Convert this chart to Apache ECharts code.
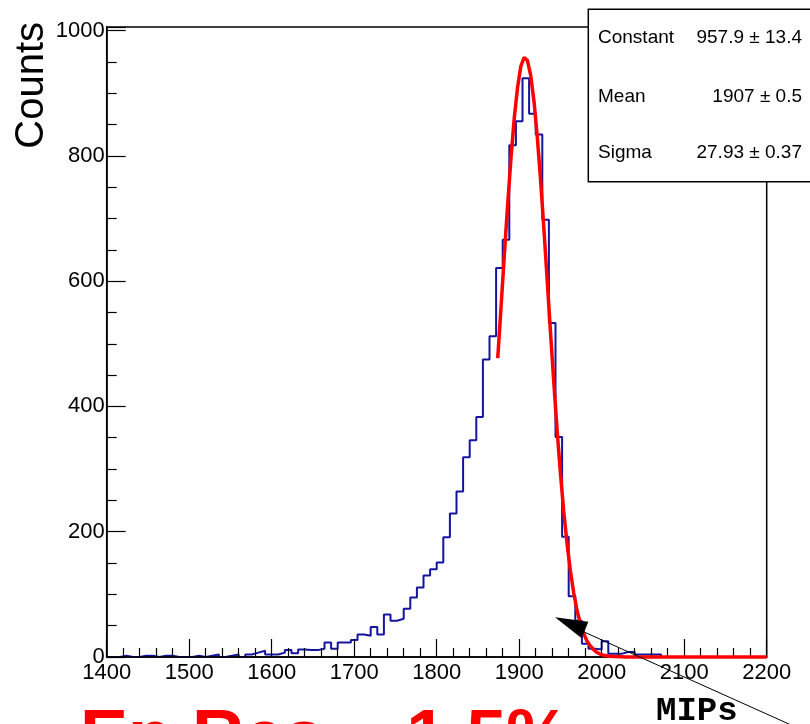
<!DOCTYPE html>
<html>
<head>
<meta charset="utf-8">
<script src="https://cdn.jsdelivr.net/npm/echarts@6/dist/echarts.min.js"></script>
<style>
  html, body { margin: 0; padding: 0; background: #fff; }
  #chart { width: 810px; height: 724px; }
</style>
</head>
<body>
<div id="chart"></div>
<script>
// ---- Data ----
const binLow = 1400;       // first bin lower edge
const binWidth = 8;        // 100 bins from 1400 to 2200
const counts = [
  0, 0, 2, 0, 0, 2, 2, 0, 2, 2,
  0, 0, 0, 2, 0, 2, 4, 0, 2, 4,
  0, 4, 7, 10, 4, 4, 7, 11, 6, 12,
  11, 11, 13, 23, 13, 23, 23, 27, 36, 34,
  48, 36, 68, 58, 61, 77, 95, 111, 130, 140,
  151, 191, 229, 264, 319, 346, 383, 475, 512, 621,
  666, 817, 855, 924, 867, 834, 698, 533, 351, 192,
  97, 58, 21, 13, 12, 25, 5, 5, 8, 8,
  4, 4, 4, 4, 0, 0, 0, 0, 0, 0,
  0, 0, 0, 0, 0, 0, 0, 0, 0, 0
];
// Gaussian fit curve
const fitX = [1874, 1878, 1882, 1886, 1890, 1894, 1898, 1902, 1906, 1907, 1910, 1914, 1918, 1922, 1926, 1930,
              1934, 1938, 1942, 1946, 1950, 1954, 1958, 1962, 1966, 1970, 1974, 1978, 1982, 1986, 1990,
              1994, 1998, 2002, 2010, 2030, 2200];
const fitY = [477, 559, 642, 722, 796, 860, 909, 943, 957, 958, 952, 928, 886, 829, 760, 682,
              600, 517, 437, 361, 293, 232, 181, 138, 103, 75, 54, 38, 26, 18, 12,
              7.5, 4.7, 2.9, 1.1, 0, 0];
const xTicks = [1400, 1500, 1600, 1700, 1800, 1900, 2000, 2100, 2200];
const yTicks = [0, 200, 400, 600, 800, 1000];
const statNames = ['Constant', 'Mean', 'Sigma'];
const statValues = ['957.9 \u00b1 13.4', '1907 \u00b1 0.5', '27.93 \u00b1 0.37'];
const yTitle = 'Counts';
const noteText = 'En Res ~ 1.5%';
const arrowLabel = 'MIPs';

// ---- Build ----
const histData = counts.map((c, i) => [binLow + i * binWidth, c]);
histData.push([binLow + counts.length * binWidth, counts[counts.length - 1]]);
const fitData = fitX.map((x, i) => [x, fitY[i]]);

const chart = echarts.init(document.getElementById('chart'), null, { renderer: 'canvas' });
const FONT = '"Liberation Sans", Arial, Helvetica, sans-serif';

const statGraphics = [];
const rowY = [38, 97, 153];
statNames.forEach((n, i) => {
  statGraphics.push({
    type: 'text', x: 598, y: rowY[i], z: 20,
    style: { text: n, font: '19px ' + FONT, fill: '#000', textAlign: 'left', textVerticalAlign: 'middle' }
  });
  statGraphics.push({
    type: 'text', x: 802, y: rowY[i], z: 20,
    style: { text: statValues[i], font: '19px ' + FONT, fill: '#000', textAlign: 'right', textVerticalAlign: 'middle' }
  });
});

const option = {
  animation: false,
  backgroundColor: '#fff',
  grid: {
    left: 106.7, right: 43.3, top: 26.9, bottom: 67,
    show: true, borderColor: '#000', borderWidth: 1.5, backgroundColor: 'transparent',
    containLabel: false, outerBoundsMode: 'none'
  },
  xAxis: {
    type: 'value', min: 1400, max: 2200, interval: 100, z: 3,
    axisLine: { show: true, lineStyle: { color: '#000', width: 1.5 } },
    axisTick: { show: true, inside: true, length: 18, lineStyle: { color: '#000', width: 1.2 } },
    minorTick: { show: true, splitNumber: 5, length: 9, lineStyle: { color: '#000', width: 1.2 } },
    splitLine: { show: false },
    axisLabel: { show: true, margin: 5, color: '#000', fontSize: 22, fontFamily: FONT,
      formatter: v => xTicks.indexOf(v) >= 0 ? String(v) : '' }
  },
  yAxis: {
    type: 'value', min: 0, max: 1005.8, interval: 200, z: 3,
    axisLine: { show: true, lineStyle: { color: '#000', width: 1.5 } },
    axisTick: { show: true, inside: true, length: 19, lineStyle: { color: '#000', width: 1.2 } },
    minorTick: { show: true, splitNumber: 4, length: 10, lineStyle: { color: '#000', width: 1.2 } },
    splitLine: { show: false },
    axisLabel: { show: true, margin: 2, color: '#000', fontSize: 22, fontFamily: FONT,
      formatter: v => yTicks.indexOf(v) >= 0 ? String(v) : '' }
  },
  series: [
    {
      type: 'line', name: 'hist', data: histData, step: 'end', symbol: 'none', z: 2,
      lineStyle: { color: '#14149c', width: 2 }, clip: true
    },
    {
      type: 'line', name: 'fit', data: fitData, symbol: 'none', z: 4, clip: false,
      lineStyle: { color: '#ff0000', width: 3.5 }
    }
  ],
  graphic: [
    { type: 'rect', z: 10, shape: { x: 588.3, y: 9.3, width: 240, height: 172.4 },
      style: { fill: '#fff', stroke: '#000', lineWidth: 1.5 } },
    ...statGraphics,
    { type: 'text', x: 32, y: 22, rotation: Math.PI / 2, z: 20,
      style: { text: yTitle, font: '40px ' + FONT, fill: '#000', textAlign: 'right', textVerticalAlign: 'middle' } },
    { type: 'text', x: 80, y: 740, z: 20,
      style: { text: noteText, font: 'bold 72px ' + FONT, fill: '#ff0000', textAlign: 'left', textVerticalAlign: 'middle' } },
    { type: 'text', x: 656, y: 711, z: 20,
      style: { text: arrowLabel, font: 'bold 34px "Liberation Mono", "Courier New", monospace', fill: '#000', textAlign: 'left', textVerticalAlign: 'middle' } },
    { type: 'line', z: 21, shape: { x1: 583, y1: 631.5, x2: 800, y2: 729 },
      style: { stroke: '#000', lineWidth: 1 } },
    { type: 'polygon', z: 21, shape: { points: [[555, 617.3], [588.3, 621.7], [581.7, 638.3]] },
      style: { fill: '#000' } }
  ]
};
chart.setOption(option);
</script>
</body>
</html>
